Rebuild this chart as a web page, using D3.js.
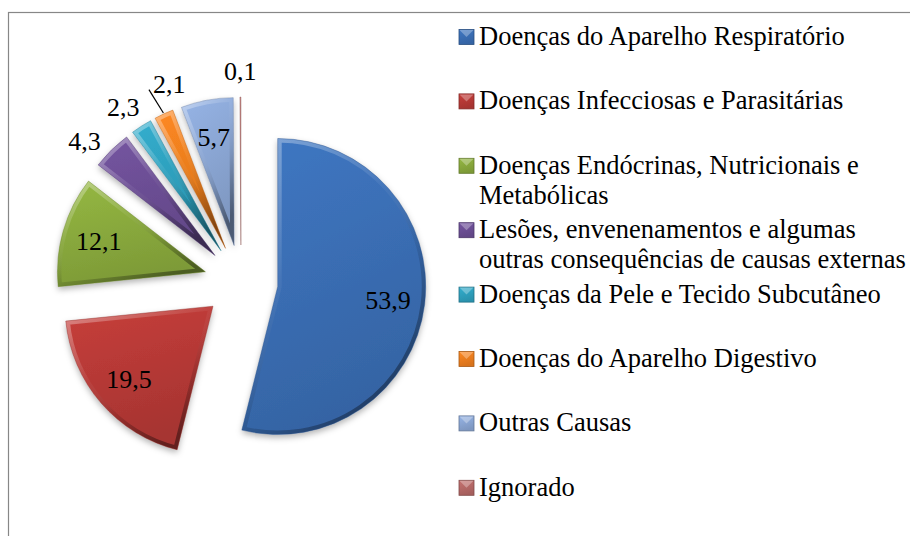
<!DOCTYPE html>
<html>
<head>
<meta charset="utf-8">
<script src="https://cdn.jsdelivr.net/npm/d3@7/dist/d3.min.js"></script>
<style>
  body { margin: 0; background: #fff; }
</style>
</head>
<body>
<div id="chart"></div>
<script>
const categories = [
  "Doenças do Aparelho Respiratório",
  "Doenças Infecciosas e Parasitárias",
  "Doenças Endócrinas, Nutricionais e Metabólicas",
  "Lesões, envenenamentos e algumas outras consequências de causas externas",
  "Doenças da Pele e Tecido Subcutâneo",
  "Doenças do Aparelho Digestivo",
  "Outras Causas",
  "Ignorado"
];
const values = [53.9, 19.5, 12.1, 4.3, 2.3, 2.1, 5.7, 0.1];
const colors = ["#3b6fb6", "#b93a37", "#8bab3d", "#6d4f96", "#2fa2c0", "#f0801f", "#8ca8d6", "#b86a68"];

const width = 910, height = 536;
const cx = 241, cy = 282;
const radius = 148;
const explode = 37;
const insideMin = 5; // smaller slices get their label outside
const legendX = 459, legendTop = 37, legendStep = 64.4, legendWrap = 440;
const font = '"Liberation Serif", "Times New Roman", serif';

const fmt = d3.formatLocale({ decimal: ",", thousands: ".", grouping: [3], currency: ["", ""] }).format(".1f");

const svg = d3.select("#chart").append("svg").attr("width", width).attr("height", height);
const defs = svg.append("defs");

// frame
svg.append("rect")
  .attr("x", 8.5).attr("y", 12.5)
  .attr("width", width).attr("height", height)
  .attr("fill", "none").attr("stroke", "#878787").attr("stroke-width", 1.2);

// gradients per colour
colors.forEach((c, i) => {
  const g = defs.append("linearGradient").attr("id", "fill" + i)
    .attr("x1", 0).attr("y1", 0).attr("x2", 0.3).attr("y2", 1);
  g.append("stop").attr("offset", "0%").attr("stop-color", d3.color(c).brighter(0.2));
  g.append("stop").attr("offset", "100%").attr("stop-color", d3.color(c).darker(0.3));
});
const bevel = defs.append("linearGradient").attr("id", "bevel")
  .attr("x1", 0).attr("y1", 0).attr("x2", 0.6).attr("y2", 1);
bevel.append("stop").attr("offset", "0%").attr("stop-color", "#fff").attr("stop-opacity", 0.4);
bevel.append("stop").attr("offset", "45%").attr("stop-color", "#fff").attr("stop-opacity", 0.05);
bevel.append("stop").attr("offset", "70%").attr("stop-color", "#000").attr("stop-opacity", 0.1);
bevel.append("stop").attr("offset", "100%").attr("stop-color", "#000").attr("stop-opacity", 0.4);

const shadow = defs.append("filter").attr("id", "shadow")
  .attr("x", "-20%").attr("y", "-20%").attr("width", "140%").attr("height", "140%");
shadow.append("feDropShadow").attr("dx", 0).attr("dy", 3).attr("stdDeviation", 3)
  .attr("flood-color", "#000").attr("flood-opacity", 0.3);

const pie = d3.pie().sort(null).value(d => d);
const arcs = pie(values);
const arc = d3.arc().innerRadius(0).outerRadius(radius);
const mid = d => (d.startAngle + d.endAngle) / 2;
const dir = a => [Math.sin(a), -Math.cos(a)];

const pieG = svg.append("g").attr("transform", `translate(${cx},${cy})`);

const slice = pieG.selectAll("g.slice")
  .data(arcs)
  .join("g")
  .attr("class", "slice")
  .attr("transform", d => {
    const [x, y] = dir(mid(d));
    return `translate(${x * explode},${y * explode})`;
  });

slice.append("clipPath").attr("id", (d, i) => "clip" + i)
  .append("path").attr("d", arc);

slice.append("path")
  .attr("d", arc)
  .attr("fill", (d, i) => `url(#fill${i})`)
  .attr("filter", "url(#shadow)");

slice.append("path")
  .attr("d", arc)
  .attr("fill", "none")
  .attr("stroke", "url(#bevel)")
  .attr("stroke-width", 8)
  .attr("stroke-linejoin", "round")
  .attr("clip-path", (d, i) => `url(#clip${i})`);

slice.append("path")
  .attr("d", arc)
  .attr("fill", "none")
  .attr("stroke", (d, i) => d3.color(colors[i]).darker(0.8))
  .attr("stroke-opacity", 0.5)
  .attr("stroke-width", 0.8);

// labels
const labelG = svg.append("g").attr("transform", `translate(${cx},${cy})`);

const inside = arcs.filter(d => d.data >= insideMin);
labelG.selectAll("text.in")
  .data(inside)
  .join("text")
  .attr("class", "in")
  .attr("text-anchor", "middle")
  .attr("dy", "0.35em")
  .style("font-family", font).style("font-size", "26px").attr("fill", "#000")
  .attr("x", d => dir(mid(d))[0] * (explode + radius * 0.75))
  .attr("y", d => dir(mid(d))[1] * (explode + radius * 0.75))
  .text(d => fmt(d.data));

// outside labels, spread apart so they do not collide
const outside = arcs.filter(d => d.data < insideMin)
  .map(d => ({ d, ang: mid(d) }))
  .sort((a, b) => a.ang - b.ang);
const minGap = 14 * Math.PI / 180;
for (let k = 0; k < 60; k++) {
  for (let i = 1; i < outside.length; i++) {
    const gap = outside[i].ang - outside[i - 1].ang;
    if (gap < minGap) {
      const push = (minGap - gap) / 2;
      outside[i - 1].ang -= push;
      outside[i].ang += push;
    }
  }
}
const outR = explode + radius + 26;

const outText = labelG.selectAll("text.out")
  .data(outside)
  .join("text")
  .attr("class", "out")
  .attr("text-anchor", "middle")
  .attr("dy", "0.35em")
  .style("font-family", font).style("font-size", "26px").attr("fill", "#000")
  .attr("x", o => dir(o.ang)[0] * outR)
  .attr("y", o => dir(o.ang)[1] * outR)
  .text(o => fmt(o.d.data));

outText.each(function (o) {
  if (Math.abs(o.ang - mid(o.d)) < 4 * Math.PI / 180) return;
  const w = this.getComputedTextLength();
  const [lx, ly] = dir(o.ang).map(v => v * outR);
  const [sx, sy] = dir(mid(o.d)).map(v => v * (explode + radius + 1));
  labelG.append("line")
    .attr("x1", sx).attr("y1", sy)
    .attr("x2", lx - w / 2 - 4).attr("y2", ly + 6)
    .attr("stroke", "#000").attr("stroke-width", 1.2);
});

// legend
const legend = svg.append("g");
const item = legend.selectAll("g")
  .data(categories)
  .join("g")
  .attr("transform", (d, i) => `translate(${legendX},${legendTop + i * legendStep})`);

item.append("rect")
  .attr("x", 0).attr("y", -7.5)
  .attr("width", 15).attr("height", 15)
  .attr("fill", (d, i) => `url(#fill${i})`)
  .attr("stroke", (d, i) => d3.color(colors[i]).darker(1))
  .attr("stroke-width", 0.8);
item.append("path")
  .attr("d", "M0.5,-7 L14.5,-7 L7.5,0 Z")
  .attr("fill", "#fff").attr("fill-opacity", 0.3);

item.append("text")
  .attr("x", 20)
  .attr("y", 8)
  .style("font-family", font).style("font-size", "26.5px").attr("fill", "#000")
  .each(function (d) {
    const t = d3.select(this);
    const words = d.split(" ");
    let line = [];
    let tspan = t.append("tspan").attr("x", 20);
    words.forEach(w => {
      line.push(w);
      tspan.text(line.join(" "));
      if (tspan.node().getComputedTextLength() > legendWrap && line.length > 1) {
        line.pop();
        tspan.text(line.join(" "));
        line = [w];
        tspan = t.append("tspan").attr("x", 20).attr("dy", 30).text(w);
      }
    });
  });
</script>
</body>
</html>
